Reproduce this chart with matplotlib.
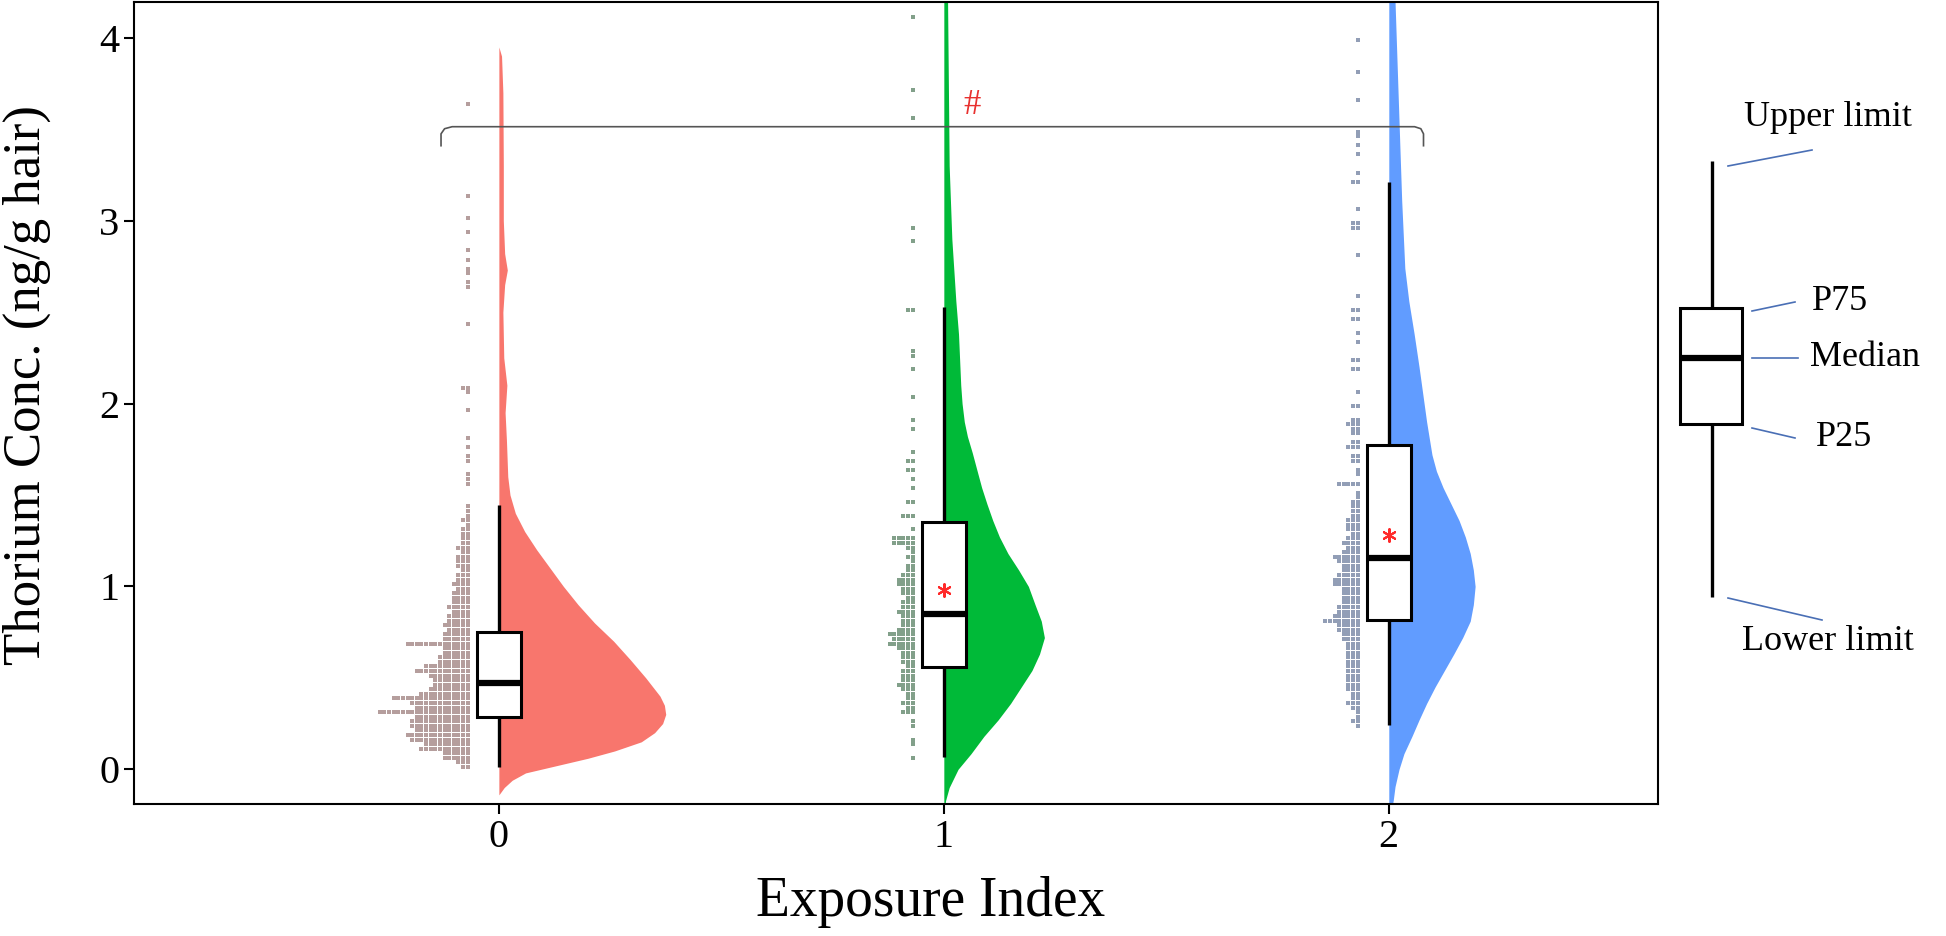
import numpy as np
import matplotlib
matplotlib.use("Agg")
import matplotlib.pyplot as plt
from matplotlib.patches import Rectangle

plt.rcParams['font.family'] = ['Liberation Serif', 'DejaVu Serif']

# Groups on the x axis
groups = [0, 1, 2]
tick_labels = ['0', '1', '2']
violin_colors = ['#F8766D', '#00BA38', '#619CFF']
dot_colors = ['#B59E9D', '#82A08A', '#929EB6']

# Box stats (lower whisker, P25, median, P75, upper whisker, mean)
box_low = [0.01, 0.065, 0.24]
box_q1 = [0.284, 0.557, 0.814]
box_med = [0.47, 0.85, 1.158]
box_q3 = [0.749, 1.35, 1.776]
box_high = [1.443, 2.53, 3.21]
box_mean = [None, 0.98, 1.28]

# Half-violin outlines: y value and half width (x units)
g0_violin_y = [-0.14, -0.10, -0.06, -0.02, 0.02, 0.06, 0.10, 0.15, 0.20, 0.25, 0.30, 0.35, 0.40,
               0.50, 0.60, 0.70, 0.80, 0.90, 1.00, 1.10, 1.20, 1.30, 1.40, 1.50, 1.60, 1.80,
               1.95, 2.10, 2.25, 2.50, 2.65, 2.73, 2.82, 3.00, 3.30, 3.70, 3.90, 3.95]
g0_violin_w = [0.0, 0.012, 0.03, 0.06, 0.13, 0.20, 0.26, 0.32, 0.35, 0.368, 0.375, 0.372, 0.362,
               0.33, 0.295, 0.258, 0.215, 0.178, 0.145, 0.115, 0.085, 0.058, 0.037, 0.025, 0.02, 0.017,
               0.014, 0.018, 0.011, 0.009, 0.013, 0.019, 0.013, 0.01, 0.01, 0.009, 0.006, 0.0]
g1_violin_y = [-0.25, -0.17, -0.10, 0.0, 0.085, 0.18, 0.27, 0.36, 0.45, 0.54, 0.63, 0.72, 0.81,
               0.90, 1.00, 1.09, 1.18, 1.27, 1.36, 1.45, 1.54, 1.63, 1.73, 1.82, 1.90, 2.00,
               2.10, 2.38, 2.56, 2.90, 3.30, 3.80, 4.30]
g1_violin_w = [0.0, 0.004, 0.012, 0.032, 0.061, 0.09, 0.122, 0.15, 0.174, 0.198, 0.215, 0.226, 0.219,
               0.205, 0.19, 0.168, 0.144, 0.125, 0.11, 0.097, 0.085, 0.075, 0.064, 0.053, 0.046, 0.041,
               0.038, 0.033, 0.027, 0.018, 0.012, 0.01, 0.008]
g2_violin_y = [-0.30, -0.17, -0.095, 0.0, 0.085, 0.18, 0.27, 0.36, 0.45, 0.54, 0.63, 0.72, 0.81,
               0.90, 1.00, 1.09, 1.18, 1.27, 1.36, 1.45, 1.54, 1.63, 1.72, 1.90, 2.20, 2.38,
               2.56, 2.74, 3.11, 3.47, 4.20, 4.40]
g2_violin_w = [0.0, 0.01, 0.014, 0.023, 0.034, 0.052, 0.068, 0.085, 0.104, 0.125, 0.146, 0.166, 0.183,
               0.19, 0.194, 0.19, 0.183, 0.172, 0.158, 0.14, 0.122, 0.107, 0.097, 0.085, 0.068, 0.057,
               0.045, 0.036, 0.029, 0.024, 0.014, 0.01]

# Dot histogram: dots per row (row pitch 0.025, first row centred at 0.0125)
# plus single points further up
dot_pitch = 0.025
g0_rows = [2, 3, 6, 6, 11, 10, 13, 14, 12, 13, 13, 12, 20, 12, 13, 17, 11, 9, 8, 8,
           9, 12, 10, 7, 7, 6, 6, 14, 6, 6, 5, 6, 5, 5, 4, 5, 4, 4, 4, 3,
           4, 3, 3, 2, 3, 3, 3, 2, 3, 2, 2, 2, 2, 1, 2, 1, 1, 1]
g0_single = [1.56, 1.59, 1.615, 1.69, 1.715, 1.77, 1.80, 1.97, 2.06, 2.10, 2.10, 2.43,
             2.63, 2.66, 2.70, 2.73, 2.78, 2.84, 2.93, 3.01, 3.13, 3.65]
g1_rows = [0, 0, 1, 0, 0, 1, 1, 0, 0, 1, 1, 0, 3, 2, 3, 2, 2, 3, 4, 3,
           3, 3, 2, 3, 3, 3, 4, 6, 5, 6, 4, 3, 3, 3, 4, 3, 3, 2, 3, 3,
           4, 4, 3, 2, 2, 1, 2, 1, 2, 5, 5, 0, 1, 0, 0, 3, 0, 0, 2, 0,
           0, 1, 0, 1, 0, 2, 0, 2, 0, 1]
g1_single = [1.85, 1.92, 2.03, 2.18, 2.27, 2.29, 2.52, 2.52, 2.90, 2.96, 3.56, 3.71, 4.11]
g2_rows = [0, 0, 0, 0, 0, 0, 0, 0, 0, 1, 2, 1, 1, 2, 3, 2, 2, 3, 3, 3,
           3, 3, 3, 3, 3, 3, 3, 3, 4, 4, 5, 5, 8, 6, 5, 5, 4, 4, 4, 4,
           6, 6, 5, 4, 4, 5, 6, 4, 3, 4, 3, 2, 3, 3, 3, 2, 2, 2, 2, 1,
           1, 0, 5, 0, 1, 1, 0, 2, 2, 0, 3, 2, 0, 2, 2, 3, 2, 0, 0, 2]
g2_single = [2.07, 2.18, 2.18, 2.23, 2.23, 2.33, 2.38, 2.45, 2.45, 2.52, 2.52, 2.60, 2.81,
             2.95, 2.95, 2.98, 2.98, 3.07, 3.22, 3.22, 3.27, 3.36, 3.42, 3.46, 3.50, 3.66,
             3.82, 4.00]

violins = [(g0_violin_y, g0_violin_w), (g1_violin_y, g1_violin_w), (g2_violin_y, g2_violin_w)]
dots = [(g0_rows, g0_single), (g1_rows, g1_single), (g2_rows, g2_single)]

fig = plt.figure(figsize=(19.46, 9.36), dpi=100)
ax = fig.add_axes([134 / 1946, 132 / 936, 1524 / 1946, 802 / 936])

for i, x in enumerate(groups):
    # half violin to the right
    vy, vw = violins[i]
    ax.fill_betweenx(vy, x, x + np.array(vw), color=violin_colors[i], lw=0, zorder=1)

    # dot histogram to the left
    rows, single = dots[i]
    counts = {}
    for k, n in enumerate(rows):
        if n:
            counts[k] = counts.get(k, 0) + n
    for v in single:
        k = int(np.round((v - dot_pitch / 2) / dot_pitch))
        counts[k] = counts.get(k, 0) + 1
    dx, dy = [], []
    for k, n in counts.items():
        for j in range(n):
            dx.append(x - 0.07 - j * 0.0104)
            dy.append(dot_pitch / 2 + k * dot_pitch)
    ax.scatter(dx, dy, marker='s', s=11.5, color=dot_colors[i], linewidths=0, zorder=2)

    # box plot
    ax.plot([x, x], [box_low[i], box_high[i]], color='black', lw=2.4, zorder=3,
            solid_capstyle='butt')
    ax.add_patch(Rectangle((x - 0.05, box_q1[i]), 0.1, box_q3[i] - box_q1[i],
                           facecolor='white', edgecolor='black', lw=2.2, zorder=4))
    ax.plot([x - 0.05, x + 0.05], [box_med[i], box_med[i]], color='black', lw=4.5,
            zorder=5, solid_capstyle='butt')
    if box_mean[i] is not None:
        ax.scatter([x], [box_mean[i]], marker=(6, 2, 0), s=85, color='#FF2A2A',
                   linewidths=1.5, zorder=6)

# significance bracket between group 0 and group 2
bx = [-0.13, -0.13, -0.122, -0.105, 2.058, 2.072, 2.078, 2.078]
by = [3.41, 3.475, 3.503, 3.514, 3.514, 3.503, 3.475, 3.41]
ax.plot(bx, by, color='#555555', lw=1.2, zorder=7)
ax.text(1.063, 3.63, '#', color='#E8312F', fontsize=25, ha='center', va='center', zorder=7)

ax.set_xlim(-0.82, 2.605)
ax.set_ylim(-0.19, 4.196)
ax.set_xticks(groups)
ax.set_xticklabels(tick_labels)
ax.set_yticks([0, 1, 2, 3, 4])
ax.tick_params(direction='out', length=7, width=1.5, labelsize=29, colors='black')
for sp in ax.spines.values():
    sp.set_linewidth(1.5)
    sp.set_color('black')
ax.set_xlabel('Exposure Index', fontsize=40)
ax.set_ylabel('Thorium Conc. (ng/g hair)', fontsize=38)
ax.xaxis.label.set_verticalalignment('center')
ax.yaxis.label.set_verticalalignment('center')
ax.xaxis.set_label_coords(0.523, -0.122)
ax.yaxis.set_label_coords(-0.070, 0.522)

# Schematic box legend on the right (pixel coordinates of the figure)
lg = fig.add_axes([0, 0, 1, 1])
lg.set_xlim(0, 1946)
lg.set_ylim(936, 0)
lg.axis('off')
wx, w_top, w_bot = 1712, 161, 597
b_l, b_r, b_t, b_m, b_b = 1680, 1742, 308, 358, 424
lg.plot([wx, wx], [w_top, w_bot], color='black', lw=2.4, solid_capstyle='butt')
lg.add_patch(Rectangle((b_l, b_t), b_r - b_l, b_b - b_t, facecolor='white',
                       edgecolor='black', lw=2.2, zorder=3))
lg.plot([b_l, b_r], [b_m, b_m], color='black', lw=4.5, solid_capstyle='butt', zorder=4)

lead = '#4A6FB5'
lg.plot([1728, 1812], [166, 150], color=lead, lw=1.2)
lg.plot([1752, 1795], [311, 302], color=lead, lw=1.2)
lg.plot([1752, 1798], [b_m, b_m], color=lead, lw=1.2)
lg.plot([1752, 1795], [428, 438], color=lead, lw=1.2)
lg.plot([1728, 1822], [598, 620], color=lead, lw=1.2)

lg.text(1828, 118, 'Upper limit', fontsize=26, ha='center', va='center')
lg.text(1812, 302, 'P75', fontsize=26, ha='left', va='center')
lg.text(1810, b_m, 'Median', fontsize=26, ha='left', va='center')
lg.text(1816, 438, 'P25', fontsize=26, ha='left', va='center')
lg.text(1828, 641, 'Lower limit', fontsize=26, ha='center', va='center')

fig.savefig('out.png', dpi=100)
